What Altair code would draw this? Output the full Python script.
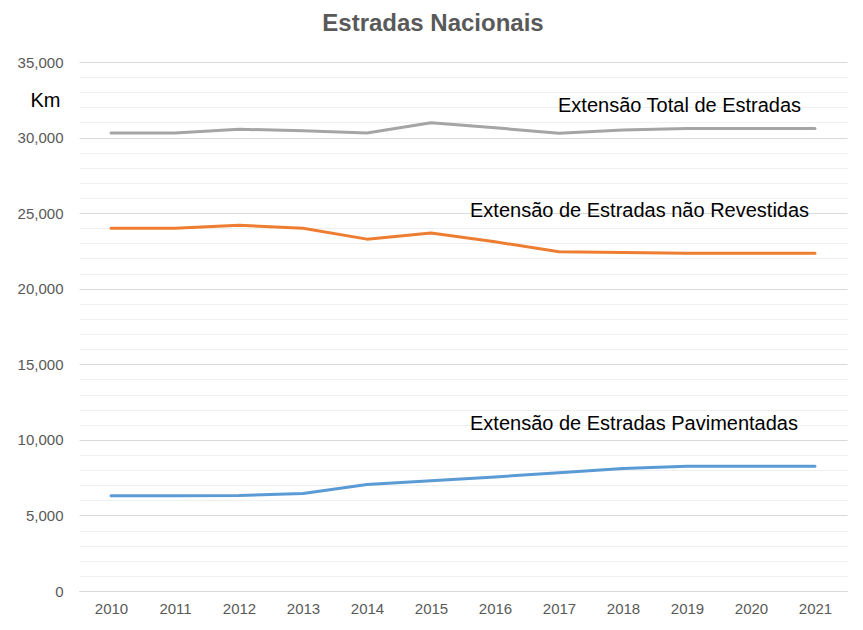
import altair as alt
import pandas as pd

years = list(range(2010, 2022))
total = [30300, 30300, 30550, 30450, 30300, 30980, 30650, 30280, 30500, 30600, 30600, 30600]
unpaved = [24000, 24000, 24200, 24000, 23280, 23680, 23100, 22450, 22400, 22350, 22350, 22350]
paved = [6300, 6300, 6320, 6450, 7050, 7300, 7550, 7820, 8100, 8250, 8250, 8250]

series_names = ["Total", "Não revestidas", "Pavimentadas"]
series_colors = ["#a5a5a5", "#ed7d31", "#5b9bd5"]

label_texts = ["Extensão Total de Estradas",
               "Extensão de Estradas não Revestidas",
               "Extensão de Estradas Pavimentadas"]
label_years = [2017, 2016, 2016]
label_km = [32100, 25150, 11050]

FONT = "Liberation Sans, Arial, sans-serif"

rows = []
for name, vals in zip(series_names, [total, unpaved, paved]):
    for y, v in zip(years, vals):
        rows.append({"ano": y, "km": v, "serie": name})
df = pd.DataFrame(rows)

labels = pd.DataFrame({"texto": label_texts, "ano": label_years, "km": label_km})

x_enc = alt.X("ano:O", scale=alt.Scale(type="point", padding=0.5),
              axis=alt.Axis(title=None, labelAngle=0, labelFont=FONT, labelFontSize=15,
                            labelColor="#595959", labelPadding=10, ticks=False,
                            domainColor="#d9d9d9", domainWidth=1, grid=False))
y_enc = alt.Y("km:Q", scale=alt.Scale(domain=[0, 35000], nice=False),
              axis=alt.Axis(values=list(range(0, 35001, 1000)),
                            labelExpr="datum.value % 5000 === 0 ? format(datum.value, ',') : ''",
                            labelOverlap=False, labelFont=FONT,
                            labelFontSize=15, labelColor="#595959", labelPadding=16,
                            ticks=False, tickSize=0, domain=False,
                            gridColor={"condition": {"test": "datum.value % 5000 === 0",
                                                     "value": "#d9d9d9"},
                                       "value": "#efefef"},
                            title="Km", titleAngle=0, titleFont=FONT, titleFontSize=20,
                            titleFontWeight="normal", titleColor="black",
                            titleX=-34, titleY=38, titleAlign="center",
                            titleBaseline="middle"))

lines = alt.Chart(df).mark_line(strokeWidth=3, strokeCap="round", strokeJoin="round").encode(
    x=x_enc,
    y=y_enc,
    color=alt.Color("serie:N", scale=alt.Scale(domain=series_names, range=series_colors),
                    legend=None),
)

total_label = alt.Chart(labels).transform_filter(
    alt.datum.ano == 2017
).mark_text(font=FONT, fontSize=20, align="left", baseline="middle", dx=-1, color="black").encode(
    x=x_enc, y=y_enc, text="texto:N"
)

other_labels = alt.Chart(labels).transform_filter(
    alt.datum.ano == 2016
).mark_text(font=FONT, fontSize=20, align="left", baseline="middle", dx=-25, color="black").encode(
    x=x_enc, y=y_enc, text="texto:N"
)

chart = alt.layer(lines, total_label, other_labels).properties(
    width=768,
    height=529,
    padding={"left": 71, "top": 54, "right": 8, "bottom": 31},
    autosize=alt.AutoSizeParams(type="none"),
    background="white",
    title=alt.TitleParams(text="Estradas Nacionais", font=FONT, fontSize=24,
                          fontWeight="bold", color="#595959", anchor="middle",
                          frame="group", baseline="alphabetic", offset=0, dx=-30),
).configure_view(stroke=None, strokeWidth=0)

chart.save("out.html", embed_options={"renderer": "svg", "actions": False})
